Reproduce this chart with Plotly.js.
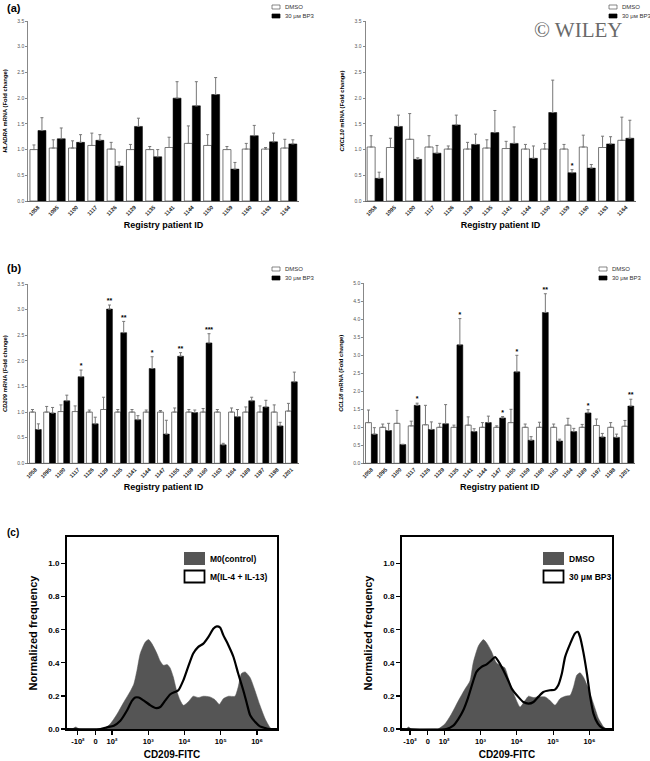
<!DOCTYPE html>
<html><head><meta charset="utf-8">
<script src="https://cdn.plot.ly/plotly-3.0.1.min.js"></script>
<style>html,body{margin:0;padding:0;background:#fff}#chart{width:650px;height:761px}</style>
</head><body><div id="chart"></div>
<script>
// ---------- DATA ----------
const idsA = ['1058','1095','1100','1117','1126','1129','1135','1141','1144','1150','1159','1160','1163','1164'];
const hladraDMSO    = [1.00,1.03,1.03,1.08,1.01,1.00,1.00,1.04,1.12,1.08,1.00,1.01,1.01,1.03];
const hladraDMSOErr = [0.09,0.16,0.14,0.24,0.13,0.10,0.06,0.20,0.34,0.21,0.06,0.11,0.03,0.17];
const hladraBP3     = [1.37,1.21,1.14,1.18,0.68,1.45,0.86,2.00,1.85,2.07,0.62,1.27,1.15,1.11];
const hladraBP3Err  = [0.25,0.21,0.15,0.11,0.08,0.16,0.14,0.32,0.47,0.33,0.13,0.20,0.17,0.08];
const hladraSig     = ['','','','','','','','','','','','','',''];

const cxcl10DMSO    = [1.05,1.04,1.20,1.05,1.01,1.01,1.03,1.02,1.01,1.01,1.01,1.05,1.04,1.18];
const cxcl10DMSOErr = [0.22,0.18,0.50,0.22,0.06,0.13,0.16,0.14,0.09,0.11,0.09,0.23,0.22,0.45];
const cxcl10BP3     = [0.44,1.45,0.81,0.93,1.48,1.10,1.33,1.12,0.83,1.72,0.55,0.64,1.11,1.22];
const cxcl10BP3Err  = [0.12,0.22,0.03,0.15,0.19,0.20,0.43,0.32,0.24,0.63,0.06,0.07,0.14,0.35];
const cxcl10Sig     = ['','','','','','','','','','','*','','',''];

const idsB = ['1058','1095','1100','1117','1126','1129','1135','1141','1144','1147','1155','1159','1160','1163','1164','1189','1197','1198','1201'];
const cd209DMSO    = [1.00,1.00,1.01,1.01,1.00,1.05,1.00,1.00,1.00,1.00,1.00,1.00,1.00,1.00,1.00,1.00,1.00,1.00,1.02];
const cd209DMSOErr = [0.05,0.11,0.13,0.11,0.04,0.24,0.05,0.05,0.04,0.03,0.08,0.05,0.07,0.05,0.08,0.10,0.12,0.14,0.15];
const cd209BP3     = [0.66,0.98,1.22,1.69,0.77,3.01,2.55,0.85,1.85,0.57,2.09,0.99,2.35,0.36,0.91,1.22,1.10,0.73,1.59];
const cd209BP3Err  = [0.11,0.11,0.11,0.13,0.13,0.08,0.22,0.08,0.23,0.27,0.07,0.05,0.18,0.03,0.14,0.07,0.13,0.07,0.19];
const cd209Sig     = ['','','','*','','**','**','','*','','**','','***','','','','','',''];

const ccl18DMSO    = [1.13,1.00,1.11,1.04,1.07,1.00,1.00,1.06,1.00,1.00,1.13,1.00,1.00,1.00,1.06,1.00,1.05,1.00,1.03];
const ccl18DMSOErr = [0.35,0.09,0.36,0.13,0.54,0.11,0.06,0.23,0.13,0.04,0.37,0.09,0.14,0.09,0.19,0.08,0.18,0.13,0.16];
const ccl18BP3     = [0.81,0.91,0.52,1.61,0.94,1.10,3.29,0.88,1.13,1.26,2.54,0.64,4.19,0.62,0.88,1.40,0.73,0.72,1.59];
const ccl18BP3Err  = [0.18,0.20,0.01,0.06,0.21,0.53,0.73,0.08,0.18,0.04,0.46,0.10,0.52,0.05,0.09,0.09,0.10,0.09,0.19];
const ccl18Sig     = ['','','','*','','','*','','','*','*','','**','','','*','','','**'];

// flow cytometry (x in display units of the biexponential axis: decades)
const flowTickVals = [1.06,1.55,2,3,4,5,6];
const flowTickText = ['-10²','0','10²','10³','10⁴','10⁵','10⁶'];

const m0X = [0.76,0.9,1.0,1.1,1.7,1.77,1.95,2.14,2.32,2.51,2.6,2.69,2.78,2.92,3.01,3.1,3.24,3.33,3.42,3.52,3.6,3.69,3.78,3.88,3.97,4.1,4.24,4.38,4.52,4.7,4.84,4.96,5.07,5.21,5.39,5.48,5.57,5.67,5.81,5.94,6.08,6.22,6.36,6.42,6.55];
const m0Y = [0,0,0.012,0,0,0,0.03,0.09,0.16,0.23,0.27,0.355,0.456,0.526,0.54,0.516,0.456,0.41,0.385,0.39,0.37,0.315,0.234,0.173,0.143,0.163,0.198,0.19,0.198,0.194,0.177,0.149,0.183,0.198,0.198,0.254,0.335,0.345,0.31,0.234,0.143,0.063,0.008,0,0];

const il4X = [0.76,1.68,1.86,2.05,2.23,2.41,2.55,2.64,2.74,2.87,3.06,3.2,3.33,3.47,3.61,3.75,3.83,3.97,4.1,4.24,4.38,4.52,4.66,4.8,4.89,4.98,5.07,5.21,5.35,5.48,5.62,5.72,5.81,5.95,6.08,6.22,6.35,6.55];
const il4Y = [0,0,0.01,0.02,0.05,0.11,0.17,0.19,0.19,0.173,0.143,0.127,0.133,0.173,0.21,0.225,0.234,0.295,0.375,0.456,0.496,0.516,0.557,0.607,0.62,0.613,0.567,0.506,0.435,0.335,0.234,0.153,0.083,0.042,0.016,0.006,0,0];

const dmsoX = [0.84,0.95,1.02,1.1,1.75,1.83,2.02,2.2,2.39,2.57,2.71,2.8,2.94,3.08,3.17,3.3,3.44,3.58,3.67,3.81,3.95,4.09,4.23,4.32,4.46,4.59,4.78,4.91,5.05,5.19,5.33,5.47,5.56,5.65,5.74,5.83,5.97,6.11,6.25,6.39,6.45,6.62];
const dmsoY = [0,0,0.012,0,0,0,0.03,0.09,0.17,0.24,0.29,0.40,0.50,0.54,0.52,0.47,0.40,0.38,0.37,0.276,0.194,0.133,0.173,0.198,0.19,0.194,0.194,0.173,0.143,0.183,0.198,0.204,0.254,0.325,0.34,0.315,0.244,0.153,0.063,0.012,0,0];

const bp3X = [0.84,2.06,2.25,2.39,2.52,2.66,2.8,2.89,3.03,3.17,3.3,3.4,3.49,3.63,3.77,3.86,4.04,4.18,4.32,4.46,4.59,4.73,4.91,5.05,5.14,5.24,5.33,5.47,5.6,5.68,5.74,5.83,5.93,6.02,6.11,6.23,6.34,6.45,6.62];
const bp3Y = [0,0,0.02,0.06,0.11,0.19,0.29,0.345,0.375,0.39,0.415,0.435,0.41,0.355,0.29,0.244,0.194,0.163,0.153,0.163,0.194,0.224,0.234,0.238,0.264,0.335,0.436,0.516,0.577,0.587,0.557,0.466,0.335,0.194,0.093,0.032,0.008,0,0];

// ---------- HELPERS ----------
const W = 650, H = 761;
const FONT = 'Liberation Sans, Arial, sans-serif';
const BARGAP = 0.17;
const fx = p => p / W;
const fy = p => 1 - p / H;
const BP3_LABEL = '30 μᴍ BP3';

const traces = [];
const layout = {
  width: W, height: H, autosize: false,
  margin: {l: 0, r: 0, t: 0, b: 0},
  paper_bgcolor: '#fff', plot_bgcolor: 'rgba(0,0,0,0)',
  showlegend: false, barmode: 'group', bargap: BARGAP, bargroupgap: 0,
  font: {family: FONT, color: '#000'},
  annotations: [], shapes: []
};

function ann(o) {
  layout.annotations.push(Object.assign({xref: 'paper', yref: 'paper', showarrow: false,
    xanchor: 'center', yanchor: 'middle', font: {family: FONT, size: 9, color: '#000'}}, o));
}

function barPanel(n, ids, dmso, dmsoErr, bp3, bp3Err, sig, yMax, dom, gene) {
  const xa = 'x' + (n === 1 ? '' : n), ya = 'y' + (n === 1 ? '' : n);
  const idx = ids.map((_, i) => i);
  traces.push({type: 'bar', x: idx, y: dmso, xaxis: xa, yaxis: ya, name: 'DMSO',
    marker: {color: '#fff', line: {color: '#555', width: 0.8}},
    error_y: {type: 'data', symmetric: false, array: dmsoErr, arrayminus: dmso.map(() => 0),
      color: '#777', thickness: 1, width: 1.5}, hoverinfo: 'skip'});
  traces.push({type: 'bar', x: idx, y: bp3, xaxis: xa, yaxis: ya, name: '30 µM BP3',
    marker: {color: '#000', line: {color: '#000', width: 0.5}},
    error_y: {type: 'data', symmetric: false, array: bp3Err, arrayminus: bp3.map(() => 0),
      color: '#777', thickness: 1, width: 1.5}, hoverinfo: 'skip'});
  const sIdx = idx.filter(i => sig[i] !== '');
  if (sIdx.length) {
    traces.push({type: 'scatter', mode: 'text', xaxis: xa, yaxis: ya,
      x: sIdx.map(i => i + (1 - BARGAP) / 4), y: sIdx.map(i => bp3[i] + bp3Err[i]),
      text: sIdx.map(i => sig[i]), textposition: 'top center', cliponaxis: false,
      textfont: {family: FONT, size: 7, color: '#000', weight: 'bold'}, hoverinfo: 'skip'});
  }
  const xk = 'xaxis' + (n === 1 ? '' : n), yk = 'yaxis' + (n === 1 ? '' : n);
  layout[xk] = {domain: [fx(dom.x0), fx(dom.x1)], anchor: ya, range: [-0.5, ids.length - 0.5],
    tickmode: 'array', tickvals: idx, ticktext: ids, tickangle: -45,
    tickfont: {family: FONT, size: 5.5, color: '#222', weight: 'bold'},
    title: {text: '<b>Registry patient ID</b>', font: {family: FONT, size: 9, color: '#000'}, standoff: 5},
    showline: true, linecolor: '#666', linewidth: 1, ticks: '', showgrid: false, zeroline: false, fixedrange: true};
  layout[yk] = {domain: [fy(dom.y1), fy(dom.y0)], anchor: xa, range: [0, yMax], dtick: 0.5, tick0: 0,
    tickformat: '.1f', tickfont: {family: FONT, size: 5, color: '#555'},
    title: {text: '<b><i>' + gene + '</i> mRNA (Fold change)</b>', font: {family: FONT, size: 5.8, color: '#000'}, standoff: 9},
    showline: true, linecolor: '#888', linewidth: 1, ticks: 'outside', ticklen: 2, tickcolor: '#888',
    showgrid: false, zeroline: false, fixedrange: true};
  const lx = dom.legX, ly = dom.legY;
  layout.shapes.push({type: 'rect', xref: 'paper', yref: 'paper', x0: fx(lx), x1: fx(lx + 8), y0: fy(ly), y1: fy(ly + 4),
    line: {color: '#555', width: 0.7}, fillcolor: '#fff'});
  layout.shapes.push({type: 'rect', xref: 'paper', yref: 'paper', x0: fx(lx), x1: fx(lx + 8), y0: fy(ly + 9), y1: fy(ly + 13),
    line: {color: '#000', width: 0.7}, fillcolor: '#000'});
  ann({text: 'DMSO', x: fx(lx + 11), y: fy(ly + 2), xanchor: 'left', font: {family: FONT, size: 6, color: '#333'}});
  ann({text: BP3_LABEL, x: fx(lx + 11), y: fy(ly + 11), xanchor: 'left', font: {family: FONT, size: 6, color: '#333'}});
}

barPanel(1, idsA, hladraDMSO, hladraDMSOErr, hladraBP3, hladraBP3Err, hladraSig, 3.5,
  {x0: 28.3, x1: 298.5, y0: 21, y1: 201, legX: 272, legY: 5}, 'HLADRA');
barPanel(2, idsA, cxcl10DMSO, cxcl10DMSOErr, cxcl10BP3, cxcl10BP3Err, cxcl10Sig, 3.5,
  {x0: 365.5, x1: 635.5, y0: 21, y1: 201, legX: 609, legY: 5}, 'CXCL10');
barPanel(3, idsB, cd209DMSO, cd209DMSOErr, cd209BP3, cd209BP3Err, cd209Sig, 3.5,
  {x0: 28.3, x1: 298.5, y0: 284, y1: 463.3, legX: 272, legY: 267}, 'CD209');
barPanel(4, idsB, ccl18DMSO, ccl18DMSOErr, ccl18BP3, ccl18BP3Err, ccl18Sig, 5.0,
  {x0: 364.3, x1: 635, y0: 283.3, y1: 463.3, legX: 599, legY: 267}, 'CCL18');

function flowPanel(n, fillX, fillY, lineX, lineY, dom, xr, names) {
  const xa = 'x' + n, ya = 'y' + n;
  traces.push({type: 'scatter', mode: 'lines', x: fillX, y: fillY, xaxis: xa, yaxis: ya,
    fill: 'tozeroy', fillcolor: '#555555', line: {color: '#555555', width: 0.5, shape: 'spline', smoothing: 0.6},
    hoverinfo: 'skip'});
  traces.push({type: 'scatter', mode: 'lines', x: lineX, y: lineY, xaxis: xa, yaxis: ya,
    line: {color: '#000', width: 2.2, shape: 'spline', smoothing: 0.6}, hoverinfo: 'skip'});
  layout['xaxis' + n] = {domain: [fx(dom.x0), fx(dom.x1)], anchor: ya, range: xr,
    tickmode: 'array', tickvals: flowTickVals, ticktext: flowTickText,
    tickfont: {family: FONT, size: 7.5, color: '#000', weight: 'bold'},
    title: {text: '<b>CD209-FITC</b>', font: {family: FONT, size: 10, color: '#000'}, standoff: 6},
    showline: true, mirror: true, linecolor: '#000', linewidth: 2, ticks: 'outside', ticklen: 4, tickwidth: 1.2, tickcolor: '#000',
    showgrid: false, zeroline: false, fixedrange: true};
  layout['yaxis' + n] = {domain: [fy(dom.y1), fy(dom.y0)], anchor: xa, range: [0, 1.16],
    tickmode: 'array', tickvals: [0, 0.2, 0.4, 0.6, 0.8, 1.0], tickformat: '.1f',
    tickfont: {family: FONT, size: 8, color: '#000', weight: 'bold'},
    title: {text: '<b>Normalized frequency</b>', font: {family: FONT, size: 11, color: '#000'}, standoff: 8},
    showline: true, mirror: true, linecolor: '#000', linewidth: 2, ticks: 'outside', ticklen: 4, tickwidth: 1.2, tickcolor: '#000',
    showgrid: false, zeroline: false, fixedrange: true};
  const lx = dom.legX;
  layout.shapes.push({type: 'rect', xref: 'paper', yref: 'paper', x0: fx(lx), x1: fx(lx + 21), y0: fy(552), y1: fy(565),
    line: {width: 0}, fillcolor: '#555555'});
  layout.shapes.push({type: 'rect', xref: 'paper', yref: 'paper', x0: fx(lx + 0.5), x1: fx(lx + 20.5), y0: fy(570.5), y1: fy(582.5),
    line: {color: '#000', width: 1.8}, fillcolor: '#fff'});
  ann({text: '<b>' + names[0] + '</b>', x: fx(lx + 24), y: fy(558.5), xanchor: 'left', font: {family: FONT, size: 8.5}});
  ann({text: '<b>' + names[1] + '</b>', x: fx(lx + 24), y: fy(577), xanchor: 'left', font: {family: FONT, size: 8.5}});
}

flowPanel(5, m0X, m0Y, il4X, il4Y, {x0: 67, x1: 277, y0: 537, y1: 729, legX: 184},
  [0.76, 6.55], ['M0(control)', 'M(IL-4 + IL-13)']);
flowPanel(6, dmsoX, dmsoY, bp3X, bp3Y, {x0: 402, x1: 612, y0: 537, y1: 729, legX: 543},
  [0.84, 6.62], ['DMSO', BP3_LABEL]);

ann({text: '<b>(a)</b>', x: fx(5), y: fy(8), xanchor: 'left', font: {family: FONT, size: 11}});
ann({text: '<b>(b)</b>', x: fx(5), y: fy(268), xanchor: 'left', font: {family: FONT, size: 11}});
ann({text: '<b>(c)</b>', x: fx(5), y: fy(532), xanchor: 'left', font: {family: FONT, size: 10}});
ann({text: '© WILEY', x: fx(578), y: fy(30), font: {family: 'Liberation Serif, serif', size: 21, color: '#6a6a6a'}});

Plotly.newPlot('chart', traces, layout, {staticPlot: true, displayModeBar: false});
</script></body></html>
